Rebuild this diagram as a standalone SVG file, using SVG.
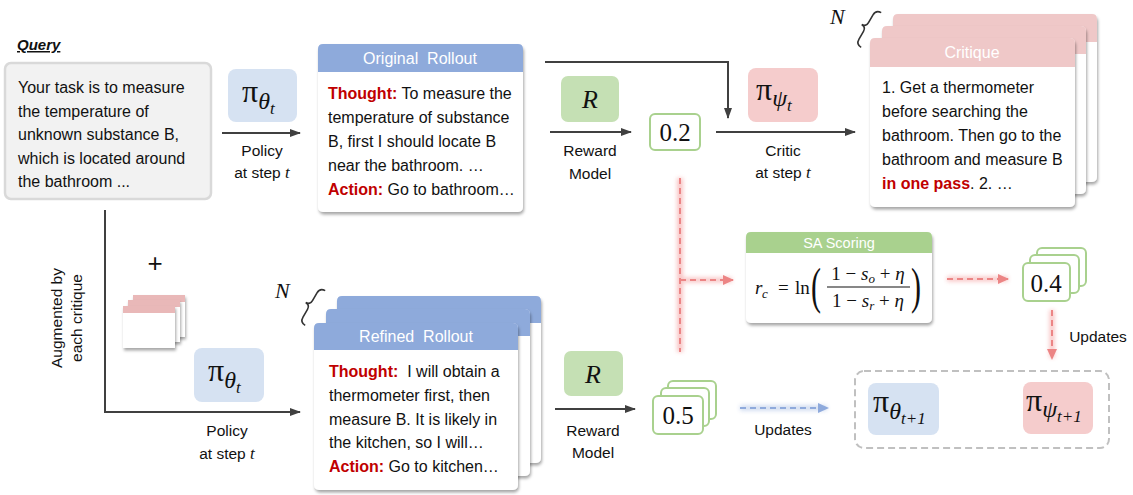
<svg xmlns="http://www.w3.org/2000/svg" width="1133" height="495" viewBox="0 0 1133 495">
<style>
.t{font-family:"Liberation Sans",Arial,sans-serif;font-size:16px;fill:#111}
.lbl{font-family:"Liberation Sans",Arial,sans-serif;font-size:15.5px;fill:#111;text-anchor:middle}
.hd{font-family:"Liberation Sans",Arial,sans-serif;font-size:16px;fill:#fff;text-anchor:middle}
.red{fill:#c00000;font-weight:bold}
.m{font-family:"Liberation Serif","Times New Roman",serif;fill:#111}
.i{font-style:italic}
.ln{stroke:#404040;stroke-width:2;fill:none}
.card{fill:#fff}
.num{fill:#fff;stroke:#a9d18e;stroke-width:2}
.blue{fill:#d6e2f2}
.pink{fill:#f5cccc}
.green{fill:#c5e0b4}
</style>
<defs>
<filter id="sh" x="-10%" y="-10%" width="125%" height="130%"><feDropShadow dx="1" dy="2.5" stdDeviation="1.5" flood-color="#000" flood-opacity="0.35"/></filter>
<filter id="glow" x="-50%" y="-50%" width="200%" height="200%"><feGaussianBlur stdDeviation="2"/></filter>
<marker id="ah" markerWidth="11" markerHeight="8" refX="10" refY="4" orient="auto" markerUnits="userSpaceOnUse"><path d="M0,0 L11,4 L0,8 z" fill="#404040"/></marker>
<marker id="ahr" markerWidth="11" markerHeight="10" refX="10" refY="5" orient="auto" markerUnits="userSpaceOnUse"><path d="M0,0 L11,5 L0,10 z" fill="#ec8585"/></marker>
<marker id="ahb" markerWidth="11" markerHeight="10" refX="10" refY="5" orient="auto" markerUnits="userSpaceOnUse"><path d="M0,0 L11,5 L0,10 z" fill="#8faadc"/></marker>
</defs>
<rect width="1133" height="495" fill="#fff"/>

<g id="query">
<text x="17" y="50" class="t" style="font-weight:bold;font-style:italic;font-size:15px;text-decoration:underline">Query</text>
<rect x="5" y="63" width="206" height="136" rx="6" fill="#f2f2f2" stroke="#d9d9d9" stroke-width="2.5"/>
<text class="t"><tspan x="18" y="93">Your task is to measure</tspan><tspan x="18" y="116.5">the temperature of</tspan><tspan x="18" y="140">unknown substance B,</tspan><tspan x="18" y="163.5">which is located around</tspan><tspan x="18" y="187">the bathroom ...</tspan></text>
</g>

<g id="policy-top">
<rect x="228" y="69" width="69" height="53" rx="8" class="blue"/>
<text class="m" x="242" y="102" font-size="32">π<tspan class="i" font-size="24" dy="7">θ</tspan><tspan class="i" font-size="17" dy="5">t</tspan></text>
</g>

<g id="original-rollout">
<rect x="318" y="44" width="205" height="168" rx="5" class="card" filter="url(#sh)"/>
<path d="M318,72 V49 Q318,44 323,44 H518 Q523,44 523,49 V72 Z" fill="#8eaadb"/>
<text x="420" y="64" class="hd">Original&#160; Rollout</text>
<text class="t"><tspan x="328" y="99" class="red">Thought:</tspan><tspan> To measure the</tspan><tspan x="328" y="123">temperature of substance</tspan><tspan x="328" y="147">B, first I should locate B</tspan><tspan x="328" y="171">near the bathroom. …</tspan><tspan x="328" y="195" class="red">Action:</tspan><tspan> Go to bathroom…</tspan></text>
</g>

<g id="reward-top">
<rect x="561" y="76" width="58" height="46" rx="7" class="green"/>
<text x="590" y="108" class="m i" font-size="26" text-anchor="middle">R</text>
</g>

<g id="score-02">
<rect x="650" y="114" width="50" height="36" rx="5" class="num"/>
<text x="675" y="141" class="m" font-size="25" text-anchor="middle">0.2</text>
</g>

<g id="critic-top">
<rect x="748" y="68" width="70" height="54" rx="8" class="pink"/>
<text class="m" x="756" y="100" font-size="32">π<tspan class="i" font-size="24" dy="6">ψ</tspan><tspan class="i" font-size="17" dy="5">t</tspan></text>
</g>

<g id="critique-stack">
<text x="830" y="24" class="m i" font-size="22">N</text>
<path d="M6,-20 Q0,-20 0,-14 L0,-5 Q0,0 -5,0 Q0,0 0,5 L0,14 Q0,20 6,20" transform="translate(866,27) rotate(30)" fill="none" stroke="#333" stroke-width="1.6"/>
<rect x="893" y="14" width="204" height="168" rx="5" class="card" filter="url(#sh)"/>
<path d="M893,42 V19 Q893,14 898,14 H1092 Q1097,14 1097,19 V42 Z" fill="#efc8c8"/>
<rect x="882" y="26" width="204" height="168" rx="5" class="card" filter="url(#sh)"/>
<path d="M882,54 V31 Q882,26 887,26 H1081 Q1086,26 1086,31 V54 Z" fill="#efc8c8"/>
<rect x="870" y="38" width="205" height="169" rx="5" class="card" filter="url(#sh)"/>
<path d="M870,67 V43 Q870,38 875,38 H1070 Q1075,38 1075,43 V67 Z" fill="#efc8c8"/>
<text x="972" y="58" class="hd">Critique</text>
<text class="t"><tspan x="882" y="93">1. Get a thermometer</tspan><tspan x="882" y="117">before searching the</tspan><tspan x="882" y="141">bathroom. Then go to the</tspan><tspan x="882" y="165">bathroom and measure B</tspan><tspan x="882" y="189" class="red">in one pass</tspan><tspan>. 2. …</tspan></text>
</g>

<g id="augment">
<text class="lbl" transform="translate(62,318) rotate(-90)">Augmented by</text>
<text class="lbl" transform="translate(82,318) rotate(-90)">each critique</text>
<text x="155" y="272" class="t" style="font-size:26px" text-anchor="middle">+</text>
</g>

<g id="mini-critiques">
<rect x="133" y="295" width="52" height="42" class="card" filter="url(#sh)"/>
<rect x="133" y="295" width="52" height="7" fill="#e9b8b8"/>
<rect x="128" y="300" width="52" height="42" class="card" filter="url(#sh)"/>
<rect x="128" y="300" width="52" height="7" fill="#e9b8b8"/>
<rect x="123" y="306" width="52" height="42" class="card" filter="url(#sh)"/>
<rect x="123" y="306" width="52" height="7" fill="#e9b8b8"/>
</g>

<g id="policy-bottom">
<rect x="194" y="348" width="70" height="54" rx="8" class="blue"/>
<text class="m" x="208" y="381" font-size="32">π<tspan class="i" font-size="24" dy="7">θ</tspan><tspan class="i" font-size="17" dy="5">t</tspan></text>
</g>

<g id="refined-stack">
<text x="275" y="298" class="m i" font-size="22">N</text>
<path d="M6,-20 Q0,-20 0,-14 L0,-5 Q0,0 -5,0 Q0,0 0,5 L0,14 Q0,20 6,20" transform="translate(310,305) rotate(30)" fill="none" stroke="#333" stroke-width="1.6"/>
<rect x="337" y="296" width="204" height="167" rx="5" class="card" filter="url(#sh)"/>
<path d="M337,323 V301 Q337,296 342,296 H536 Q541,296 541,301 V323 Z" fill="#8eaadb"/>
<rect x="326" y="309" width="204" height="167" rx="5" class="card" filter="url(#sh)"/>
<path d="M326,336 V314 Q326,309 331,309 H525 Q530,309 530,314 V336 Z" fill="#8eaadb"/>
<rect x="314" y="323" width="204" height="167" rx="5" class="card" filter="url(#sh)"/>
<path d="M314,350 V328 Q314,323 319,323 H513 Q518,323 518,328 V350 Z" fill="#8eaadb"/>
<text x="416" y="342" class="hd">Refined&#160; Rollout</text>
<text class="t"><tspan x="329" y="377" class="red">Thought:</tspan><tspan>&#160; I will obtain a</tspan><tspan x="329" y="401">thermometer first, then</tspan><tspan x="329" y="424.5">measure B. It is likely in</tspan><tspan x="329" y="448">the kitchen, so I will…</tspan><tspan x="329" y="471.5" class="red">Action:</tspan><tspan> Go to kitchen…</tspan></text>
</g>

<g id="reward-bottom">
<rect x="564" y="351" width="59" height="45" rx="7" class="green"/>
<text x="593" y="383" class="m i" font-size="26" text-anchor="middle">R</text>
</g>

<g id="score-05">
<rect x="668" y="381" width="48" height="38" rx="5" class="num"/>
<rect x="661" y="388" width="48" height="38" rx="5" class="num"/>
<rect x="653" y="396" width="50" height="38" rx="5" class="num"/>
<text x="678" y="424" class="m" font-size="25" text-anchor="middle">0.5</text>
</g>

<g id="sa-scoring">
<rect x="746" y="232" width="186" height="91" rx="5" class="card" filter="url(#sh)"/>
<path d="M746,253 V237 Q746,232 751,232 H927 Q932,232 932,237 V253 Z" fill="#a9d18e"/>
<text x="839" y="248" class="hd" style="font-size:14.5px">SA Scoring</text>
<g class="m" font-size="19">
<text x="755" y="294" class="i">r</text>
<text x="762" y="298" class="i" font-size="13">c</text>
<text x="778" y="294">=</text>
<text x="795" y="294">ln</text>
<text x="0" y="0" font-size="50" transform="translate(811,303) scale(0.6,1)">(</text>
<text x="868" y="280" text-anchor="middle">1 − <tspan class="i">s</tspan><tspan font-size="13" dy="3" class="i">o</tspan><tspan dy="-3"> + </tspan><tspan class="i">η</tspan></text>
<line x1="827" y1="287" x2="910" y2="287" stroke="#111" stroke-width="1.2"/>
<text x="868" y="307" text-anchor="middle">1 − <tspan class="i">s</tspan><tspan font-size="13" dy="3" class="i">r</tspan><tspan dy="-3"> + </tspan><tspan class="i">η</tspan></text>
<text x="0" y="0" font-size="50" transform="translate(911,303) scale(0.6,1)">)</text>
</g>
</g>

<g id="score-04">
<rect x="1037" y="248" width="49" height="38" rx="5" class="num"/>
<rect x="1030" y="255" width="49" height="38" rx="5" class="num"/>
<rect x="1023" y="263" width="47" height="38" rx="5" class="num"/>
<text x="1046" y="292" class="m" font-size="25" text-anchor="middle">0.4</text>
</g>

<g id="next-policies">
<rect x="855" y="371" width="254" height="77" rx="9" fill="none" stroke="#c0c0c0" stroke-width="2" stroke-dasharray="7,4"/>
<rect x="868" y="383" width="71" height="52" rx="8" class="blue"/>
<text class="m" x="873" y="412" font-size="32">π<tspan class="i" font-size="24" dy="7">θ</tspan><tspan class="i" font-size="17" dy="5">t+1</tspan></text>
<rect x="1023" y="382" width="70" height="52" rx="8" class="pink"/>
<text class="m" x="1026" y="411" font-size="32">π<tspan class="i" font-size="24" dy="6">ψ</tspan><tspan class="i" font-size="17" dy="5">t+1</tspan></text>
</g>

<g id="connectors">
<line x1="222" y1="133" x2="300" y2="133" class="ln" marker-end="url(#ah)"/>
<text x="262" y="156" class="lbl">Policy</text>
<text x="262" y="178" class="lbl">at step <tspan class="m i" font-size="17">t</tspan></text>
<path d="M545,62 H728 V118" class="ln" marker-end="url(#ah)"/>
<line x1="550" y1="132" x2="631" y2="132" class="ln" marker-end="url(#ah)"/>
<text x="590" y="156" class="lbl">Reward</text>
<text x="590" y="179" class="lbl">Model</text>
<line x1="716" y1="132" x2="855" y2="132" class="ln" marker-end="url(#ah)"/>
<text x="783" y="156" class="lbl">Critic</text>
<text x="783" y="178" class="lbl">at step <tspan class="m i" font-size="17">t</tspan></text>
<path d="M105,210 V412 H300" class="ln" marker-end="url(#ah)"/>
<text x="227" y="436" class="lbl">Policy</text>
<text x="227" y="459" class="lbl">at step <tspan class="m i" font-size="17">t</tspan></text>
<line x1="555" y1="409" x2="635" y2="409" class="ln" marker-end="url(#ah)"/>
<text x="593" y="436" class="lbl">Reward</text>
<text x="593" y="458" class="lbl">Model</text>
<g filter="url(#glow)" opacity="0.45">
<line x1="680" y1="178" x2="680" y2="352" stroke="#f08080" stroke-width="6"/>
<line x1="680" y1="280" x2="732" y2="280" stroke="#f08080" stroke-width="5"/>
<line x1="947" y1="279" x2="1008" y2="279" stroke="#f08080" stroke-width="5"/>
<line x1="1052" y1="310" x2="1052" y2="358" stroke="#f08080" stroke-width="5"/>
<line x1="740" y1="408" x2="827" y2="408" stroke="#8faadc" stroke-width="5"/>
</g>
<line x1="680" y1="178" x2="680" y2="352" stroke="#ec8585" stroke-width="2" stroke-dasharray="6,4"/>
<line x1="680" y1="280" x2="733" y2="280" stroke="#ec8585" stroke-width="2" stroke-dasharray="6,4" marker-end="url(#ahr)"/>
<line x1="947" y1="279" x2="1008" y2="279" stroke="#ec8585" stroke-width="2" stroke-dasharray="6,4" marker-end="url(#ahr)"/>
<line x1="1052" y1="310" x2="1052" y2="359" stroke="#ec8585" stroke-width="2" stroke-dasharray="6,4" marker-end="url(#ahr)"/>
<text x="1098" y="342" class="lbl">Updates</text>
<line x1="740" y1="408" x2="828" y2="408" stroke="#8faadc" stroke-width="2" stroke-dasharray="6,4" marker-end="url(#ahb)"/>
<text x="783" y="435" class="lbl">Updates</text>
</g>
</svg>
